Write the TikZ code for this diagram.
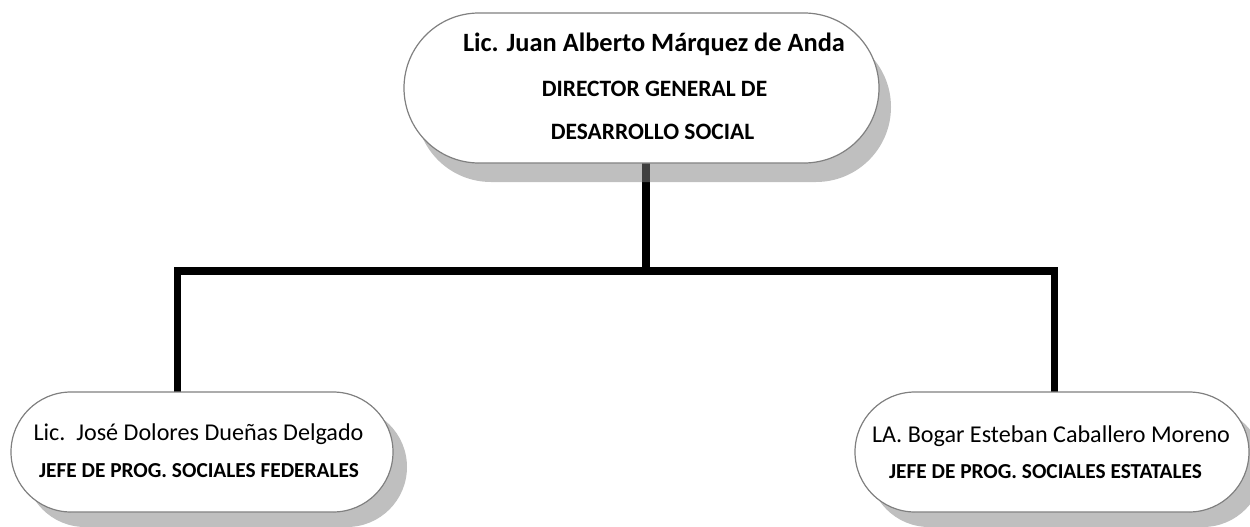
\documentclass[tikz,border=0pt]{standalone}
\usepackage{fontspec}
\setmainfont{Carlito}
\usetikzlibrary{shapes.misc,shadows}
\pgfdeclarelayer{bg}
\pgfsetlayers{bg,main}
\definecolor{edgegray}{HTML}{808080}
\tikzset{
  term/.style={rounded rectangle, draw=edgegray, fill=white, line width=0.9pt, inner sep=0pt, outer sep=0pt},
  topshadow/.style={drop shadow={shadow xshift=9pt, shadow yshift=-14.25pt, fill=black!50, opacity=0.5}},
  botshadow/.style={drop shadow={shadow xshift=10.5pt, shadow yshift=-11.25pt, fill=black!50, opacity=0.5}},
  conn/.style={line width=5.6pt, black, line join=miter},
  txt/.style={anchor=base, inner sep=0pt},
  namebig/.style={txt, font=\fontsize{19.8}{24}\selectfont\bfseries},
  titlebig/.style={txt, font=\fontsize{17.6}{21}\selectfont\bfseries},
  namereg/.style={txt, font=\fontsize{18.1}{21}\selectfont},
  titlesmall/.style={txt, font=\fontsize{16}{19}\selectfont\bfseries},
}
\begin{document}
\begin{tikzpicture}[x=0.75pt, y=0.75pt]
\useasboundingbox (0,0) rectangle (1250,526);
\clip (0,0) rectangle (1250,526);
% boxes
\node[term, topshadow, minimum width=356.25pt, minimum height=112.5pt] (top) at (641.5,438) {};
\node[term, botshadow, minimum width=286.5pt, minimum height=90pt] (left) at (202,74) {};
\node[term, botshadow, minimum width=295.5pt, minimum height=90pt] (right) at (1052,74) {};
% texts
\node[namebig] (t1) at (654,474) {Lic. Juan Alberto Márquez de Anda};
\node[titlebig] (t2) at (654.5,429) {DIRECTOR GENERAL DE};
\node[titlebig] (t3) at (652.5,387) {DESARROLLO SOCIAL};
\node[namereg] (l1) at (198.5,86) {Lic.\ \ José Dolores Dueñas Delgado};
\node[titlesmall] (l2) at (199,49) {JEFE DE PROG. SOCIALES FEDERALES};
\node[namereg] (r1) at (1051,84) {LA. Bogar Esteban Caballero Moreno};
\node[titlesmall] (r2) at (1045.5,48) {JEFE DE PROG. SOCIALES ESTATALES};
% connectors
\coordinate (jt) at (646,255);
\coordinate (jl) at (177.5,255);
\coordinate (jr) at (1054.5,255);
\begin{pgfonlayer}{bg}
\draw[conn] (top.south -| jt) -- (jt);
\draw[conn] (left.north -| jl) -- (jl) -- (jr) -- (right.north -| jr);
\end{pgfonlayer}
\end{tikzpicture}
\end{document}
